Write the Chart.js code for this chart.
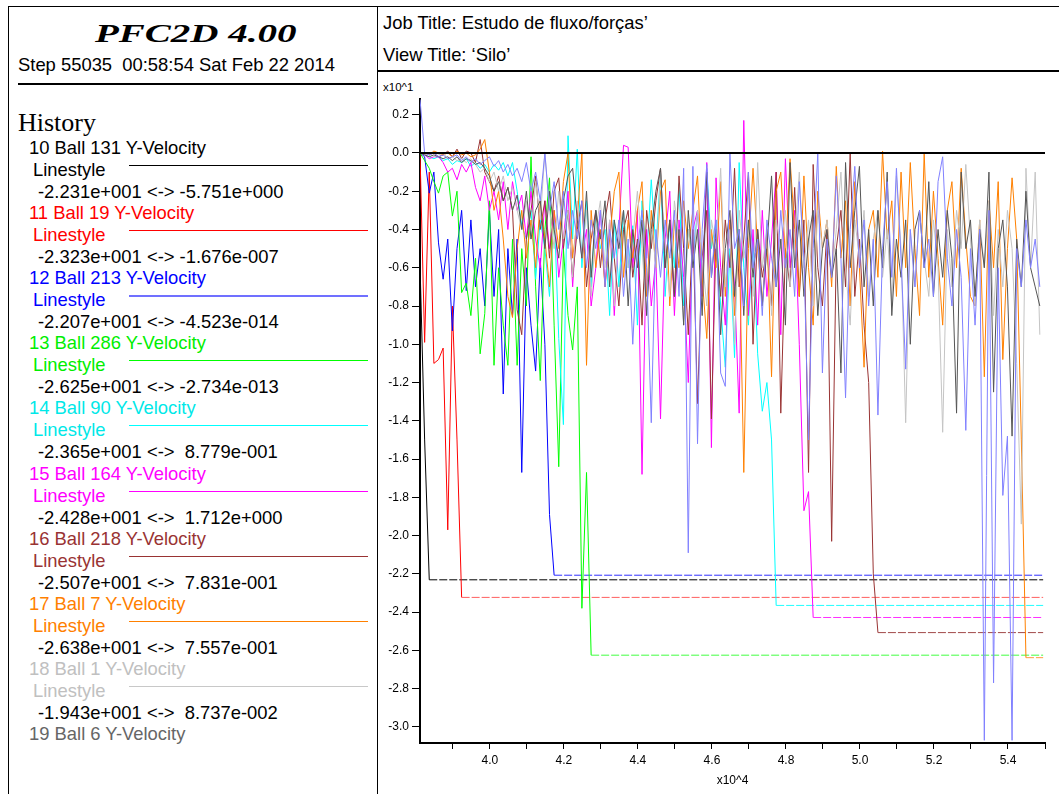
<!DOCTYPE html>
<html>
<head>
<meta charset="utf-8">
<script src="https://cdn.jsdelivr.net/npm/chart.js@4.4.1/dist/chart.umd.min.js"></script>
<style>
  body { margin: 0; width: 1059px; height: 794px; background: #fff; overflow: hidden; position: relative;
         font-family: "Liberation Sans", Arial, sans-serif; color: #000; }
  .t { position: absolute; white-space: pre; font-size: 18.4px; line-height: 20px; }
  .rule { position: absolute; background: #000; }
  #chartBox { position: absolute; left: 379px; top: 72px; width: 680px; height: 722px; }
</style>
</head>
<body>
<!-- frame -->
<div class="rule" style="left:8px;top:6px;width:1051px;height:1px"></div>
<div class="rule" style="left:8px;top:6px;width:1px;height:788px"></div>
<div class="rule" style="left:377px;top:6px;width:1px;height:788px"></div>
<div class="rule" style="left:18px;top:83px;width:350px;height:2px"></div>
<div class="rule" style="left:378px;top:70px;width:681px;height:2px"></div>

<div class="t" style="left:95px;top:19px;font-family:'Liberation Serif',serif;font-weight:bold;font-style:italic;font-size:26px;line-height:30px;transform:scaleX(1.5);transform-origin:left center">PFC2D 4.00</div>
<div class="t" style="left:18px;top:55px">Step 55035  00:58:54 Sat Feb 22 2014</div>
<div class="t" style="left:18px;top:108px;font-family:'Liberation Serif',serif;font-size:26px;line-height:30px">History</div>

<div class="t" style="left:383px;top:13px">Job Title: Estudo de fluxo/forças’</div>
<div class="t" style="left:383px;top:45px">View Title: ‘Silo’</div>
<div class="t" style="left:383px;top:80px;font-size:11.5px;line-height:14px">x10^1</div>

<div id="legend"></div>
<div id="chartBox"><canvas id="grafico" width="680" height="722"></canvas></div>

<script>
// history sampling (x10^4 steps)
const xStart = 3.811;
const xStep = 0.0125;
const xEnd = 5.495;
const xAxisMin = 3.811;
const xAxisMax = 5.5;
const yAxisMin = -3.084;
const yAxisMax = 0.282;

const xTicks = [3.9, 4.0, 4.1, 4.2, 4.3, 4.4, 4.5, 4.6, 4.7, 4.8, 4.9, 5.0, 5.1, 5.2, 5.3, 5.4, 5.5];
const xTickLabels = ['', '4.0', '', '4.2', '', '4.4', '', '4.6', '', '4.8', '', '5.0', '', '5.2', '', '5.4', ''];
const yTicks = [0.2, 0.0, -0.2, -0.4, -0.6, -0.8, -1.0, -1.2, -1.4, -1.6, -1.8, -2.0, -2.2, -2.4, -2.6, -2.8, -3.0];
const yTickLabels = ['0.2', '0.0', '-0.2', '-0.4', '-0.6', '-0.8', '-1.0', '-1.2', '-1.4', '-1.6', '-1.8', '-2.0', '-2.2', '-2.4', '-2.6', '-2.8', '-3.0'];

// legend text
const legendNames = ['10 Ball 131 Y-Velocity', '11 Ball 19 Y-Velocity', '12 Ball 213 Y-Velocity', '13 Ball 286 Y-Velocity',
  '14 Ball 90 Y-Velocity', '15 Ball 164 Y-Velocity', '16 Ball 218 Y-Velocity', '17 Ball 7 Y-Velocity',
  '18 Ball 1 Y-Velocity', '19 Ball 6 Y-Velocity'];
const legendRanges = ['-2.231e+001 <-> -5.751e+000', '-2.323e+001 <-> -1.676e-007', '-2.207e+001 <-> -4.523e-014',
  '-2.625e+001 <-> -2.734e-013', '-2.365e+001 <->  8.779e-001', '-2.428e+001 <->  1.712e+000',
  '-2.507e+001 <->  7.831e-001', '-2.638e+001 <->  7.557e-001', '-1.943e+001 <->  8.737e-002', null];

// Y-velocity values (x10^1), one per history sample until the ball settles
const ball131 = [-0.58, -1.5];
const ball19 = [0.0, -0.99, -0.1, -1.1, -1.08, -1.02, -1.97, -0.8, -1.5];
const ball213 = [0.0, -0.02, -0.21, -0.1, -0.47, -0.66, -0.45, -0.93, -0.5, -0.3,
  -0.72, -0.35, -0.7, -0.5, -0.8, -0.3, -0.75, -0.4, -1.26, -0.5,
  -0.85, -0.45, -1.67, -0.6, -0.9, -1.14, -0.55, -1.0, -1.89];
const ball286 = [0.0, -0.04, -0.08, -0.15, -0.21, -0.12, -0.1, -0.33, -0.2, -0.73,
  -0.68, -0.85, -0.55, -1.05, -0.84, -0.25, -1.11, -0.6, -0.9, -1.11,
  -0.45, -1.11, -0.5, -0.8, -0.02, -0.7, -1.19, -0.4, -0.13, -0.9,
  -1.64, -0.5, -0.85, -1.03, -0.7, -2.38, -1.67];
const ball90 = [0.0, -0.01, -0.02, -0.03, -0.02, -0.04, -0.03, -0.06, -0.04, -0.05,
  -0.03, -0.07, -0.05, -0.08, -0.06, -0.1, -0.06, -0.09, -0.05, -0.12,
  -0.05, -0.2, -0.38, -0.45, -0.3, -0.66, -0.35, -0.5, -0.75, -0.3,
  -0.97, -1.42, 0.09, -0.45, 0.02, -0.6, -0.25, -0.7, -0.3, -0.5,
  -0.4, -0.85, -0.35, -0.7, -0.3, -0.6, -0.38, -0.9, -0.25, -0.55,
  -0.14, -0.5, -0.1, -0.75, -0.35, -0.6, -0.16, -0.8, -0.4, -0.55,
  -0.3, -0.7, -0.08, -0.5, -0.35, -0.8, -1.12, -0.5, -1.07, -0.05,
  -0.6, -0.9, -0.45, -1.05, -1.35, -1.2, -1.5];
const ball164 = [0.0, -0.01, -0.03, -0.02, -0.02, -0.05, -0.1, -0.08, -0.14, -0.06,
  -0.1, -0.05, -0.18, -0.25, -0.12, -0.3, -0.2, -0.35, -0.15, -0.4,
  -0.15, -0.3, -0.22, -0.45, -0.2, -0.45, -0.6, -0.25, -0.5, -0.3,
  -0.65, -0.45, -0.2, -0.7, -0.3, -0.55, -0.4, -0.8, -0.6, -0.3,
  -0.7, -0.35, -0.85, -0.4, 0.04, 0.03, -0.6, -0.3, -1.68, -0.4,
  -0.8, -0.55, -1.39, -0.45, -0.2, -0.85, -0.35, -0.65, -1.2, -0.4,
  -0.3, -0.75, -0.05, -1.54, -0.13, -0.6, -0.9, -0.35, -0.7, -1.36,
  0.17, -0.85, -0.4, -0.9, -0.3, -0.75, -0.45, -0.1, -0.95, -0.03,
  -0.6, -0.3, -1.0, -1.87, -1.77];
const ball218 = [0.0, 0.0, -0.01, 0.0, -0.02, -0.01, 0.01, -0.02, 0.02, -0.03,
  0.01, 0.0, -0.05, 0.07, -0.1, -0.15, -0.2, -0.12, -0.25, -0.18,
  -0.3, -0.82, -0.95, -0.45, -0.3, -0.12, -0.4, -0.25, -0.55, -0.2,
  -0.13, -0.5, -0.3, -0.65, -0.4, -0.25, -0.7, -0.45, -0.3, -0.6,
  -0.35, -0.2, -0.55, -0.8, -0.4, -0.3, -0.65, -0.45, -0.9, -0.3,
  -0.5, -0.25, -0.08, -0.6, -0.35, -0.75, -0.12, -0.5, -0.95, -0.4,
  -1.31, -0.55, -0.3, -1.39, -0.45, -0.75, -0.35, -0.6, -0.08, -0.7,
  -0.45, -0.1, -1.0, -0.4, -0.65, -0.5, -0.8, -0.1, -1.36, -0.5,
  -0.7, -0.18, -0.75, -0.35, -1.67, -0.06, -0.6, -0.8, -0.4, -2.03,
  -0.5, -0.3, -0.7, 0.0, -0.75, -0.45, -0.9, -1.2, -2.2];
const ball7 = [0.0, 0.0, -0.01, 0.01, 0.0, -0.01, 0.0, -0.02, 0.01, -0.01,
  0.0, -0.02, -0.01, 0.02, 0.07, -0.1, -0.3, -0.2, -0.45, -0.75,
  -0.86, -0.5, -0.3, -0.55, -0.35, -0.6, -0.25, -0.45, -0.7, -0.3,
  -0.5, -0.15, 0.0, -0.55, -0.35, 0.0, -1.11, -0.3, -0.6, -0.4,
  -0.7, -0.45, -0.2, -0.1, -0.65, -0.35, -0.55, -0.3, -0.15, -0.75,
  -0.3, -0.6, -0.2, -0.14, -0.8, -0.35, -0.6, -0.25, -0.5, -0.3,
  -0.12, -0.65, -0.97, -0.4, -0.6, -0.15, -0.75, -0.35, -0.85, -0.45,
  -1.67, -0.5, -0.08, -0.5, -0.8, -0.4, -1.17, -0.2, -0.1, -0.55,
  -0.03, -0.4, -0.75, -0.12, -0.6, -0.9, -0.2, -0.5, -0.35, -0.7,
  -0.07, -0.55, -0.25, -0.8, -0.15, -0.6, -1.12, -0.4, -0.3, -0.65,
  0.01, -0.45, -0.25, -0.75, -0.1, -0.6, -0.05, -0.5, -0.85, 0.0,
  -0.65, -0.2, -0.55, -0.9, -0.3, -0.15, -0.6, -0.08, -0.45, -0.75,
  -0.8, -0.35, -1.17, -0.25, -0.6, -0.15, -1.08, -0.5, -0.13, -0.45,
  -1.5];
const ball1 = [0.0, -0.01, 0.0, -0.02, -0.01, 0.0, -0.03, -0.02, -0.04, -0.03,
  -0.05, -0.03, -0.06, -0.1, -0.08, -0.15, -0.1, -0.2, -0.12, -0.25,
  -0.18, -0.3, -0.4, -0.25, -0.45, -0.15, -0.35, 0.0, -0.3, -0.5,
  -0.2, -0.45, -0.3, -0.65, -0.25, -0.55, -0.3, -0.75, -0.4, -0.25,
  -0.6, -0.35, -0.8, -0.4, -0.3, -0.6, -0.45, -0.2, -0.5, -0.85,
  -0.35, -0.6, -0.1, -0.5, -0.75, -0.25, -0.45, -0.9, -0.4, -0.6,
  -0.3, -0.55, -0.8, -0.35, -0.5, -0.08, -0.7, -0.4, -1.0, -0.3,
  -0.55, -0.35, -0.75, -0.05, -0.6, -0.4, -0.85, -0.35, -0.5, -0.3,
  -0.7, -0.45, -0.1, -0.6, -0.35, -0.8, -0.3, -0.5, -0.35, -0.65,
  -0.4, -0.1, -0.6, -0.9, -0.35, -0.55, -0.3, -0.75, -0.45, -0.3,
  -0.65, -0.4, -0.8, -0.12, -0.5, -1.41, -0.4, -0.7, -0.3, -0.55,
  -0.75, -0.35, -0.6, -1.46, -0.4, -0.7, -0.3, -0.5, -0.06, -0.45,
  -0.8, -0.35, -0.6, -0.25, -0.85, -0.4, -0.7, -0.3, -0.5, -1.1,
  -1.94, -0.08, -0.6, -0.1, -0.95];
const ball6 = [0.0, -0.01, -0.02, -0.01, -0.02, -0.03, -0.02, -0.04, -0.02, -0.05,
  -0.03, -0.04, -0.06, -0.05, -0.08, -0.12, -0.2, -0.15, -0.25, -0.18,
  -0.3, -0.22, -0.4, -0.2, -0.45, -0.3, -0.25, -0.5, -0.2, -0.4,
  -0.55, -0.25, -0.12, -0.08, -0.35, -0.55, -0.2, -0.65, -0.3, -0.45,
  -0.25, -0.7, -0.35, -0.5, -0.3, -0.8, -0.4, -0.6, -0.35, -0.85,
  -0.4, -0.2, -0.08, -0.6, -0.35, -0.75, -0.4, -0.9, -0.3, -0.6,
  -0.4, -0.85, -0.1, -0.65, -0.4, -0.95, -0.5, -0.3, -0.75, -0.4,
  -0.85, -0.35, -0.65, -0.4, -0.8, -0.5, -0.12, -0.7, -0.45, -0.9,
  -0.05, -0.6, -0.35, -0.75, -0.45, -0.3, -0.85, -0.5, -0.4, -0.65,
  -0.5, -1.15, -0.05, -0.6, -0.3, -0.07, -0.7, -0.4, -0.8, -0.3,
  -0.6, -0.1, -0.85, -0.45, -0.65, -0.35, -1.0, -0.4, -0.3, -0.6,
  -0.15, -0.75, -0.4, -0.65, -0.3, -0.55, -1.36, -0.1, -0.5, -0.35,
  -0.75, -0.4, -0.6, -0.1, -1.25, -0.5, -0.35, -0.7, -1.48, -0.45,
  -0.7, -0.2, -0.6, -0.7, -0.8];
// further history curve drawn on the plot but below the visible legend
const hist20 = [0.28, 0.0, -0.01, 0.0, -0.02, -0.01, -0.03, -0.02, -0.01, -0.04,
  -0.02, -0.05, -0.03, -0.06, -0.04, -0.02, -0.07, -0.04, -0.1, -0.06,
  -0.12, -0.08, -0.15, -0.05, -0.2, -0.1, -0.25, 0.0, -0.3, -0.15,
  -0.4, -0.2, -0.5, -0.3, -0.45, -0.25, -0.6, -0.35, -0.5, -0.3,
  -0.7, -0.4, -0.55, -0.35, -0.75, -0.45, -1.0, -0.5, -0.3, -0.6,
  -1.41, -0.4, -0.65, -0.35, -0.55, -0.3, -0.75, -0.08, -2.09, -0.07,
  -1.52, -0.4, -0.06, -0.65, -0.35, -1.15, -1.22, 0.0, -0.5, -0.4,
  -0.8, -0.1, -0.6, -0.45, -0.85, -0.35, -0.55, -0.7, -0.3, -0.6,
  -0.4, -0.75, -0.15, -0.55, -1.5, -0.5, 0.0, -1.15, -0.45, -0.65,
  -0.12, -0.55, -1.28, -0.4, -0.07, -0.6, -0.35, -0.8, -0.45, -1.37,
  -0.5, -0.15, -0.65, -0.08, -0.55, -1.13, -0.4, -0.7, -0.3, -0.6,
  -0.45, -0.75, -0.15, -0.02, -0.55, -0.8, -0.4, -0.65, -1.45, -0.5,
  -0.9, -0.4, -3.07, -0.3, -2.77, -0.6, -1.79, -1.48, -3.07, -0.5,
  -0.7, -0.35, -0.6, -0.45, -0.7];

// settled velocity once the ball has left the silo (null: still moving)
const settled = [-2.231, -2.323, -2.207, -2.625, -2.365, -2.428, -2.507, -2.638, null, null, null];

const seriesList = [ball131, ball19, ball213, ball286, ball90, ball164, ball218, ball7, ball1, ball6, hist20];
const plotColors = ['#000000', '#ff0000', '#0000ff', '#00ff00', '#00ffff', '#ff00ff', '#993333', '#ff8000', '#c4c4c4', '#555555', '#8080ff'];
const floorColors = ['#000000', '#ff6060', '#3030ff', '#40ff40', '#20ffff', '#ff30ff', '#a04848', '#ff9a40'];
const textColors = ['#000000', '#ff0000', '#0000ff', '#00ee00', '#00e8e8', '#ff00ff', '#993333', '#ff8000', '#c0c0c0', '#666666'];
const styleLineColors = ['#000000', '#ff0000', '#7070ff', '#00ff00', '#00ffff', '#ff00ff', '#993333', '#ff8000', '#c8c8c8'];

// legend panel
const legend = document.getElementById('legend');
legendNames.forEach(function(name, k) {
  const y = 138 + k * 65.1;
  let html = '<div class="t" style="left:29px;top:' + y + 'px;color:' + textColors[k] + '">' + name + '</div>';
  if (legendRanges[k]) {
    html += '<div class="t" style="left:33px;top:' + (y + 22) + 'px;color:' + textColors[k] + '">Linestyle</div>';
    html += '<div class="rule" style="left:129px;top:' + (y + 27) + 'px;width:239px;height:' + (k === 2 ? 2 : 1) + 'px;background:' + styleLineColors[k] + '"></div>';
    html += '<div class="t" style="left:38px;top:' + (y + 44) + 'px">' + legendRanges[k] + '</div>';
  }
  legend.insertAdjacentHTML('beforeend', html);
});

function buildPoints(vals, floor) {
  const pts = vals.map((v, i) => ({ x: xStart + i * xStep, y: v }));
  if (floor !== null) {
    pts.push({ x: xStart + vals.length * xStep, y: floor });
    pts.push({ x: xEnd, y: floor });
  }
  return pts;
}

const datasets = seriesList.map(function(vals, k) {
  const floor = settled[k];
  const isFloor = c => floor !== null && c.p0.parsed.y === floor && c.p1.parsed.y === floor;
  return {
    data: buildPoints(vals, floor),
    borderColor: plotColors[k],
    borderWidth: 1,
    pointRadius: 0,
    tension: 0,
    order: -k,
    segment: {
      borderDash: c => isFloor(c) ? [8, 2] : undefined,
      borderColor: c => isFloor(c) ? floorColors[k] : undefined
    }
  };
});
datasets.push({
  data: [{ x: xAxisMin, y: 0 }, { x: xAxisMax, y: 0 }],
  borderColor: '#000',
  borderWidth: 2,
  pointRadius: 0,
  order: -100
});

const tickFont = { family: 'Liberation Sans', size: 12 };
const ctx = document.getElementById('grafico').getContext('2d');
new Chart(ctx, {
  type: 'line',
  data: { datasets: datasets },
  options: {
    responsive: false,
    animation: false,
    events: [],
    layout: { autoPadding: false, padding: { top: 27, right: 14, left: 0, bottom: 0 } },
    plugins: { legend: { display: false }, tooltip: { enabled: false } },
    scales: {
      x: {
        type: 'linear',
        min: xAxisMin,
        max: xAxisMax,
        border: { display: true, color: '#000', width: 2 },
        grid: { drawOnChartArea: false, drawTicks: true, tickLength: 6, color: '#000' },
        ticks: { color: '#000', font: tickFont, padding: 4, maxRotation: 0, autoSkip: false,
                 callback: (v, i) => xTickLabels[i] },
        afterBuildTicks: s => { s.ticks = xTicks.map(v => ({ value: v })); },
        afterFit: s => { s.height = 51; },
        title: { display: true, text: 'x10^4', color: '#000', font: tickFont, padding: { top: 0, bottom: 6 } }
      },
      y: {
        type: 'linear',
        min: yAxisMin,
        max: yAxisMax,
        border: { display: true, color: '#000', width: 2 },
        grid: { drawOnChartArea: false, drawTicks: true, tickLength: 8, color: '#000' },
        ticks: { color: '#000', font: tickFont, padding: 3, autoSkip: false,
                 callback: (v, i) => yTickLabels[i] },
        afterBuildTicks: s => { s.ticks = yTicks.map(v => ({ value: v })); },
        afterFit: s => { s.width = 41; }
      }
    }
  }
});
</script>
</body>
</html>
